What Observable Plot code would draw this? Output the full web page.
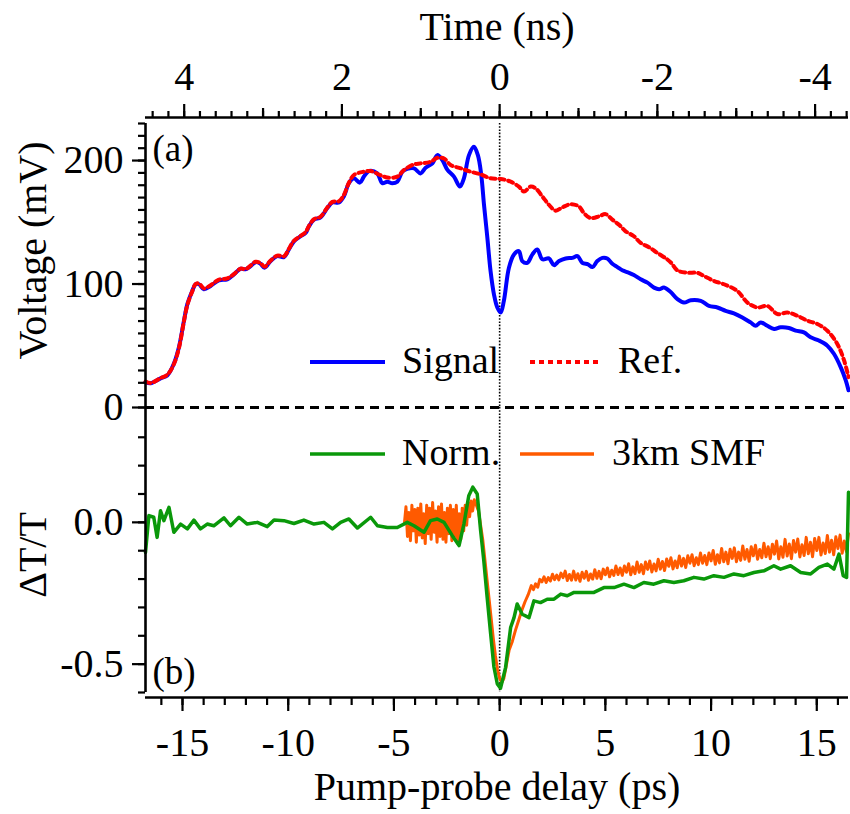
<!DOCTYPE html>
<html><head><meta charset="utf-8">
<script src="https://cdn.jsdelivr.net/npm/d3@7"></script>
<script src="https://cdn.jsdelivr.net/npm/@observablehq/plot@0.6"></script>
<style>
html,body{margin:0;padding:0;background:#fff;}
#chart{position:relative;width:850px;height:814px;}
#chart svg{position:absolute;left:0;overflow:visible;background:transparent;}
</style></head><body><div id="chart"></div>
<script>
// ---- data ----
const signal = [[-16.75,20.6],[-16.51,19.6],[-16.04,23.6],[-15.72,26],[-15.41,35.4],[-15.17,48.8],[-14.93,70.3],[-14.77,83.7],[-14.54,94.4],[-14.38,99.8],[-14.22,99.8],[-13.99,95.8],[-13.67,98.4],[-13.28,103],[-12.88,103.8],[-12.57,107.8],[-12.25,112.4],[-12.02,111.9],[-11.78,114.5],[-11.54,117.7],[-11.31,116.4],[-11.12,113.2],[-10.83,118.6],[-10.52,122.6],[-10.2,121.8],[-9.97,128],[-9.73,134.6],[-9.41,138.7],[-9.18,141.3],[-9.02,146.7],[-8.78,152.1],[-8.47,154],[-8.15,161.5],[-7.91,166],[-7.6,166],[-7.37,170.9],[-7.13,181.6],[-6.89,185.6],[-6.61,182.1],[-6.42,187],[-6.18,191.5],[-5.79,189.6],[-5.55,181.6],[-5.31,182.9],[-5.08,181.6],[-4.84,182.9],[-4.6,191],[-4.37,193.2],[-4.05,193.7],[-3.74,189.6],[-3.5,194.2],[-3.18,197.7],[-2.95,204.4],[-2.71,200.4],[-2.47,192.4],[-2.16,187],[-1.88,178.9],[-1.69,185.6],[-1.45,204.4],[-1.22,211.1],[-1.03,204.4],[-0.87,188.3],[-0.74,164.2],[-0.58,137.3],[-0.43,110.5],[-0.27,91.7],[-0.11,81],[0.05,76.9],[0.2,86.4],[0.44,113.2],[0.68,124],[0.91,126.6],[1.07,118.6],[1.31,117.2],[1.55,124],[1.78,128],[2.02,120],[2.33,120.7],[2.57,115.3],[2.81,118.6],[3.12,120.7],[3.44,121.2],[3.68,122.6],[3.91,117.2],[4.18,115.9],[4.39,113.7],[4.62,118.6],[4.86,121.2],[5.09,120.7],[5.33,116.4],[5.57,113.7],[5.8,111.1],[6.12,109.1],[6.35,107.3],[6.67,103.8],[6.99,101.1],[7.3,97.1],[7.54,95.8],[7.77,97.1],[8.09,93.5],[8.41,87.7],[8.72,85],[9.04,86.9],[9.51,86.4],[9.9,82.3],[10.3,81],[10.69,78.3],[11.08,76.2],[11.48,72.9],[11.87,68.9],[12.11,66.2],[12.35,68.9],[12.66,66.2],[12.98,63.6],[13.29,64.9],[13.68,64.4],[14,62.2],[14.39,60.8],[14.71,56.8],[15.1,54.2],[15.5,50.1],[15.81,43.5],[16.13,32.7],[16.37,22],[16.5,14]];

const reference = [[-16.75,21],[-16.51,19.8],[-16.04,23.8],[-15.72,26.5],[-15.41,35],[-15.17,48],[-14.93,70],[-14.77,83],[-14.54,94],[-14.38,100],[-14.22,100.5],[-13.99,96.5],[-13.67,99],[-13.28,103.5],[-12.88,104.5],[-12.57,108],[-12.25,112.5],[-12.02,112],[-11.78,115],[-11.54,118],[-11.31,117],[-11.12,114],[-10.83,119],[-10.52,123],[-10.2,122.5],[-9.97,128.5],[-9.73,135],[-9.41,139],[-9.18,142],[-9.02,147],[-8.78,152.5],[-8.47,154.5],[-8.15,162],[-7.91,166.5],[-7.6,167],[-7.37,172],[-7.13,182],[-6.89,188.3],[-6.42,191],[-6.1,191.5],[-5.65,188.3],[-5.31,186.2],[-4.84,187],[-4.52,192.4],[-4.05,196.9],[-3.74,197.7],[-3.27,199],[-2.95,202.2],[-2.63,201.7],[-2.32,196.4],[-1.84,193.7],[-1.37,191],[-0.9,188.8],[-0.43,185.6],[0.05,185.1],[0.52,182.9],[0.91,178.9],[1.15,174.9],[1.47,178.9],[1.7,177.5],[2.02,170.9],[2.33,164.2],[2.65,159.4],[2.96,162],[3.36,164.7],[3.75,162.8],[3.99,157.4],[4.3,153.4],[4.7,154.8],[5.01,156.6],[5.33,152.1],[5.64,148.1],[5.96,142.7],[6.35,138.7],[6.67,133.3],[7.06,129.8],[7.46,125.2],[7.93,119.9],[8.12,117],[8.41,111],[8.88,109.1],[9.35,109.1],[9.66,106.5],[10.14,102.5],[10.61,99.8],[11.24,94.4],[11.72,85],[12.19,81],[12.66,82.3],[13.14,75.7],[13.61,76.9],[14.08,74.3],[14.56,70.3],[15.03,67.6],[15.5,62.2],[15.97,51.5],[16.29,38.1],[16.5,24.6]];

const norm = [[-16.75,-0.106],[-16.59,0.024],[-16.36,0.018],[-16.2,-0.053],[-16.04,0.041],[-15.88,0.006],[-15.64,0.053],[-15.41,-0.035],[-15.09,-0.006],[-14.77,-0.023],[-14.46,0.008],[-14.15,-0.023],[-13.83,-0.006],[-13.52,-0.012],[-13.04,0.016],[-12.73,-0.012],[-12.33,0.018],[-11.94,-0.006],[-11.46,0],[-10.99,-0.015],[-10.67,0.008],[-10.2,0.006],[-9.73,-0.004],[-9.26,0.008],[-8.78,-0.006],[-8.31,0],[-7.91,-0.023],[-7.52,0],[-7.13,0.012],[-6.73,-0.02],[-6.1,0.018],[-5.78,-0.012],[-5.31,-0.018],[-4.84,-0.018],[-4.37,0],[-4.05,-0.012],[-3.58,-0.035],[-3.27,0.006],[-2.95,0.012],[-2.63,0],[-2.24,-0.047],[-1.92,-0.082],[-1.69,-0.006],[-1.46,0.094],[-1.27,0.124],[-1.06,0.1],[-0.9,-0.029],[-0.75,-0.135],[-0.59,-0.265],[-0.43,-0.39],[-0.27,-0.51],[-0.11,-0.57],[0.04,-0.585],[0.28,-0.512],[0.52,-0.371],[0.68,-0.336],[0.83,-0.288],[1.07,-0.324],[1.39,-0.336],[1.62,-0.277],[1.93,-0.283],[2.25,-0.271],[2.57,-0.271],[2.89,-0.253],[3.2,-0.259],[3.52,-0.247],[3.99,-0.247],[4.46,-0.247],[4.93,-0.23],[5.41,-0.23],[5.88,-0.218],[6.35,-0.23],[6.82,-0.212],[7.29,-0.218],[7.77,-0.206],[8.24,-0.212],[8.71,-0.206],[9.19,-0.194],[9.66,-0.2],[10.13,-0.188],[10.61,-0.194],[11.08,-0.182],[11.55,-0.188],[12.03,-0.177],[12.5,-0.171],[12.97,-0.153],[13.29,-0.165],[13.76,-0.153],[14.24,-0.177],[14.71,-0.182],[15.1,-0.159],[15.5,-0.147],[15.81,-0.165],[16.05,-0.112],[16.25,-0.188],[16.41,-0.194],[16.5,0.106]];

const smf = [[-4.5,0.0],[-4.43,0.055],[-4.36,-0.05],[-4.29,0.035],[-4.22,-0.065],[-4.15,0.06],[-4.08,-0.03],[-4.01,0.045],[-3.94,-0.07],[-3.87,0.05],[-3.8,-0.045],[-3.73,0.065],[-3.66,-0.055],[-3.59,0.03],[-3.52,-0.075],[-3.45,0.06],[-3.38,-0.04],[-3.31,0.05],[-3.24,-0.06],[-3.17,0.07],[-3.1,-0.035],[-3.03,0.04],[-2.96,-0.07],[-2.89,0.055],[-2.82,-0.05],[-2.75,0.065],[-2.68,-0.06],[-2.61,0.035],[-2.54,-0.07],[-2.47,0.05],[-2.4,-0.04],[-2.33,0.06],[-2.26,-0.065],[-2.19,0.045],[-2.12,-0.05],[-2.05,0.06],[-1.98,-0.075],[-1.91,0.03],[-1.84,-0.06],[-1.77,0.05],[-1.7,-0.03],[-1.63,0.06],[-1.56,-0.01],[-1.49,0.07],[-1.42,0.02],[-1.35,0.075],[-1.28,0.04],[-1.2,0.08],[-1.1,0.06],[-1.0,0.04],[-0.9,-0.01],[-0.8,-0.06],[-0.7,-0.13],[-0.6,-0.2],[-0.5,-0.27],[-0.4,-0.34],[-0.3,-0.41],[-0.2,-0.47],[-0.1,-0.52],[0.0,-0.55],[0.1,-0.565],[0.2,-0.55],[0.3,-0.51],[0.45,-0.45],[0.6,-0.42],[0.75,-0.38],[0.9,-0.345],[1.05,-0.31],[1.2,-0.28],[1.35,-0.255],
[1.5,-0.223],[1.6,-0.237],[1.7,-0.217],[1.8,-0.229],[1.9,-0.201],[2.0,-0.21],[2.1,-0.192],[2.2,-0.212],[2.3,-0.195],[2.4,-0.207],[2.5,-0.183],[2.6,-0.202],[2.7,-0.186],[2.8,-0.203],[2.9,-0.179],
[3.0,-0.195],[3.1,-0.172],[3.2,-0.205],[3.3,-0.184],[3.4,-0.204],[3.5,-0.172],[3.6,-0.203],[3.7,-0.181],[3.8,-0.208],[3.9,-0.176],[4.0,-0.197],[4.1,-0.173],[4.2,-0.204],[4.3,-0.182],[4.4,-0.2],[4.5,-0.167],[4.6,-0.197],[4.7,-0.173],[4.8,-0.199],[4.9,-0.165],[5.0,-0.185],[5.1,-0.161],[5.2,-0.192],[5.3,-0.169],[5.4,-0.187],[5.5,-0.154],[5.6,-0.184],[5.7,-0.161],[5.8,-0.187],[5.9,-0.154],
[6.0,-0.176],[6.1,-0.146],[6.2,-0.185],[6.3,-0.157],[6.4,-0.181],[6.5,-0.14],[6.6,-0.176],[6.7,-0.149],[6.8,-0.181],[6.9,-0.14],[7.0,-0.166],[7.1,-0.136],[7.2,-0.175],[7.3,-0.147],[7.4,-0.171],[7.5,-0.13],[7.6,-0.165],[7.7,-0.138],[7.8,-0.17],[7.9,-0.129],[8.0,-0.155],[8.1,-0.125],[8.2,-0.164],[8.3,-0.136],[8.4,-0.16],[8.5,-0.119],[8.6,-0.154],[8.7,-0.127],[8.8,-0.159],[8.9,-0.118],[9.0,-0.144],[9.1,-0.114],[9.2,-0.153],[9.3,-0.125],[9.4,-0.149],[9.5,-0.108],[9.6,-0.144],[9.7,-0.117],[9.8,-0.149],[9.9,-0.108],
[10.0,-0.136],[10.1,-0.099],[10.2,-0.148],[10.3,-0.114],[10.4,-0.143],[10.5,-0.092],[10.6,-0.139],[10.7,-0.105],[10.8,-0.146],[10.9,-0.095],[11.0,-0.127],[11.1,-0.09],[11.2,-0.139],[11.3,-0.105],[11.4,-0.134],[11.5,-0.083],[11.6,-0.13],[11.7,-0.096],[11.8,-0.137],[11.9,-0.086],[12.0,-0.118],[12.1,-0.081],[12.2,-0.13],[12.3,-0.096],[12.4,-0.125],[12.5,-0.074],[12.6,-0.121],[12.7,-0.086],[12.8,-0.128],[12.9,-0.077],
[13.0,-0.112],[13.1,-0.066],[13.2,-0.129],[13.3,-0.086],[13.4,-0.123],[13.5,-0.06],[13.6,-0.119],[13.7,-0.076],[13.8,-0.128],[13.9,-0.064],[14.0,-0.105],[14.1,-0.059],[14.2,-0.122],[14.3,-0.079],[14.4,-0.117],[14.5,-0.053],[14.6,-0.111],[14.7,-0.07],[14.8,-0.121],[14.9,-0.057],[15.0,-0.099],[15.1,-0.053],[15.2,-0.115],[15.3,-0.073],[15.4,-0.11],[15.5,-0.046],[15.6,-0.105],[15.7,-0.063],[15.8,-0.114],[15.9,-0.051],[16.0,-0.092],[16.1,-0.045],[16.2,-0.109],[16.3,-0.066],[16.4,-0.103],[16.5,-0.04]];

// tick values / labels
const psTicks = [-15, -10, -5, 0, 5, 10, 15];
const nsTicks = [4, 2, 0, -2, -4];
const nsMidTicks = [3, 1, -1, -3];
const mvTicks = [0, 100, 200];
const dtTicks = [0, -0.5];
const psPerNs = 3.73; // ps delay per ns of time axis

// domains
const xDomain = [-16.75, 16.5];
const vDomain = [0, 230];
const dDomain = [-0.6, 0.405];

const FONT = "Liberation Serif, Times New Roman, serif";
const style = {background: "transparent", overflow: "visible", fontFamily: FONT, fontSize: "40px", color: "black"};
const AX = 2.6, TK = 2.2;
const hy = d => String(d); // hyphen-minus labels
const blank = () => "";

const topPlot = Plot.plot({
  width: 850, height: 407, marginTop: 123, marginBottom: 0, marginLeft: 145, marginRight: 2,
  x: {domain: xDomain, label: null},
  y: {domain: vDomain, label: null},
  style,
  marks: [
    Plot.ruleY([0], {stroke: "black", strokeWidth: 3, strokeDasharray: "9,6"}),
    Plot.ruleX([0], {stroke: "black", strokeWidth: 1.6, strokeDasharray: "1.6,1.6"}),
    Plot.line(signal, {x: d => d[0], y: d => d[1], stroke: "#0000ff", strokeWidth: 4, curve: "catmull-rom"}),
    Plot.line(reference, {x: d => d[0], y: d => d[1], stroke: "#ff0000", strokeWidth: 4, strokeDasharray: "5,4", curve: "catmull-rom"}),
    Plot.ruleX([xDomain[0]], {stroke: "black", strokeWidth: AX}),
    Plot.axisY({ticks: mvTicks, tickSize: 13, tickPadding: 9, strokeWidth: TK, fontSize: 40, tickFormat: hy}),
    Plot.axisY({ticks: d3.range(0, 231, 10), tickSize: 7, strokeWidth: TK, tickFormat: blank}),
    Plot.ruleY([vDomain[1]], {dy: -6, stroke: "black", strokeWidth: AX}),
    Plot.axisX({anchor: "top", ticks: nsTicks.map(n => -n * psPerNs), tickSize: 14, tickPadding: 14, dy: -6, strokeWidth: TK, fontSize: 40, tickFormat: d => hy(Math.round(-d / psPerNs))}),
    Plot.axisX({anchor: "top", ticks: nsMidTicks.map(n => -n * psPerNs), tickSize: 10, dy: -6, strokeWidth: TK, tickFormat: blank}),
    Plot.axisX({anchor: "top", ticks: d3.range(-22, 23).map(k => k * 0.2 * psPerNs), tickSize: 7, dy: -6, strokeWidth: TK, tickFormat: blank}),
    Plot.text(["Time (ns)"], {text: d => d, frameAnchor: "top", dy: -96, lineAnchor: "middle", fontSize: 40}),
    Plot.text(["Voltage (mV)"], {text: d => d, frameAnchor: "left", dx: -112, dy: -15, rotate: -90, textAnchor: "middle", lineAnchor: "middle", fontSize: 40}),
    Plot.text(["(a)"], {text: d => d, frameAnchor: "top-left", dx: 7, dy: 26, textAnchor: "start", lineAnchor: "middle", fontSize: 37})
  ]
});

const botPlot = Plot.plot({
  width: 850, height: 407, marginTop: 0, marginBottom: 122, marginLeft: 145, marginRight: 2,
  x: {domain: xDomain, label: null},
  y: {domain: dDomain, label: null},
  style,
  marks: [
    Plot.ruleX([0], {stroke: "black", strokeWidth: 1.6, strokeDasharray: "1.6,1.6"}),
    Plot.line(smf, {x: d => d[0], y: d => d[1], stroke: "#ff5a00", strokeWidth: 3}),
    Plot.line(norm, {x: d => d[0], y: d => d[1], stroke: "#0a980a", strokeWidth: 3.5}),
    Plot.ruleX([xDomain[0]], {stroke: "black", strokeWidth: AX}),
    Plot.axisY({ticks: dtTicks, tickSize: 13, tickPadding: 9, strokeWidth: TK, fontSize: 40, tickFormat: d => d.toFixed(1)}),
    Plot.axisY({ticks: d3.range(-6, 4).map(k => k / 10), tickSize: 7, strokeWidth: TK, tickFormat: blank}),
    Plot.ruleY([dDomain[0]], {dy: 5, stroke: "black", strokeWidth: AX}),
    Plot.axisX({anchor: "bottom", ticks: psTicks, tickSize: 14, tickPadding: 16, dy: 5, strokeWidth: TK, fontSize: 40, tickFormat: hy}),
    Plot.axisX({anchor: "bottom", ticks: d3.range(-16, 17), tickSize: 8, dy: 5, strokeWidth: TK, tickFormat: blank}),
    Plot.text(["Pump-probe delay (ps)"], {text: d => d, frameAnchor: "bottom", dy: 95, lineAnchor: "middle", fontSize: 40}),
    Plot.text(["ΔT/T"], {text: d => d, frameAnchor: "left", dx: -112, dy: 5, rotate: -90, textAnchor: "middle", lineAnchor: "middle", fontSize: 40}),
    Plot.text(["(b)"], {text: d => d, frameAnchor: "bottom-left", dx: 7, dy: -20, textAnchor: "start", lineAnchor: "middle", fontSize: 37})
  ]
});

const chart = document.getElementById("chart");
topPlot.style.top = "0px";
botPlot.style.top = "407px";
chart.appendChild(topPlot);
chart.appendChild(botPlot);

// legend overlay
const legendItems = [
  {label: "Signal", color: "#0000ff", dash: null, width: 4, x0: 310, x1: 385, tx: 402, y: 362},
  {label: "Ref.", color: "#ff0000", dash: "5,4", width: 4, x0: 530, x1: 602, tx: 618, y: 362},
  {label: "Norm.", color: "#0a980a", dash: null, width: 3.5, x0: 310, x1: 385, tx: 402, y: 454},
  {label: "3km SMF", color: "#ff5a00", dash: null, width: 3.5, x0: 520, x1: 594, tx: 612, y: 454}
];
const ov = d3.select(chart).append("svg").attr("width", 850).attr("height", 814).style("top", "0px").style("pointer-events", "none");
const g = ov.selectAll("g").data(legendItems).join("g");
g.append("line").attr("x1", d => d.x0).attr("x2", d => d.x1).attr("y1", d => d.y).attr("y2", d => d.y)
  .attr("stroke", d => d.color).attr("stroke-width", d => d.width).attr("stroke-dasharray", d => d.dash);
g.append("text").attr("x", d => d.tx).attr("y", d => d.y + 11).attr("font-family", FONT).attr("font-size", 38).attr("fill", "black").text(d => d.label);
</script></body></html>
